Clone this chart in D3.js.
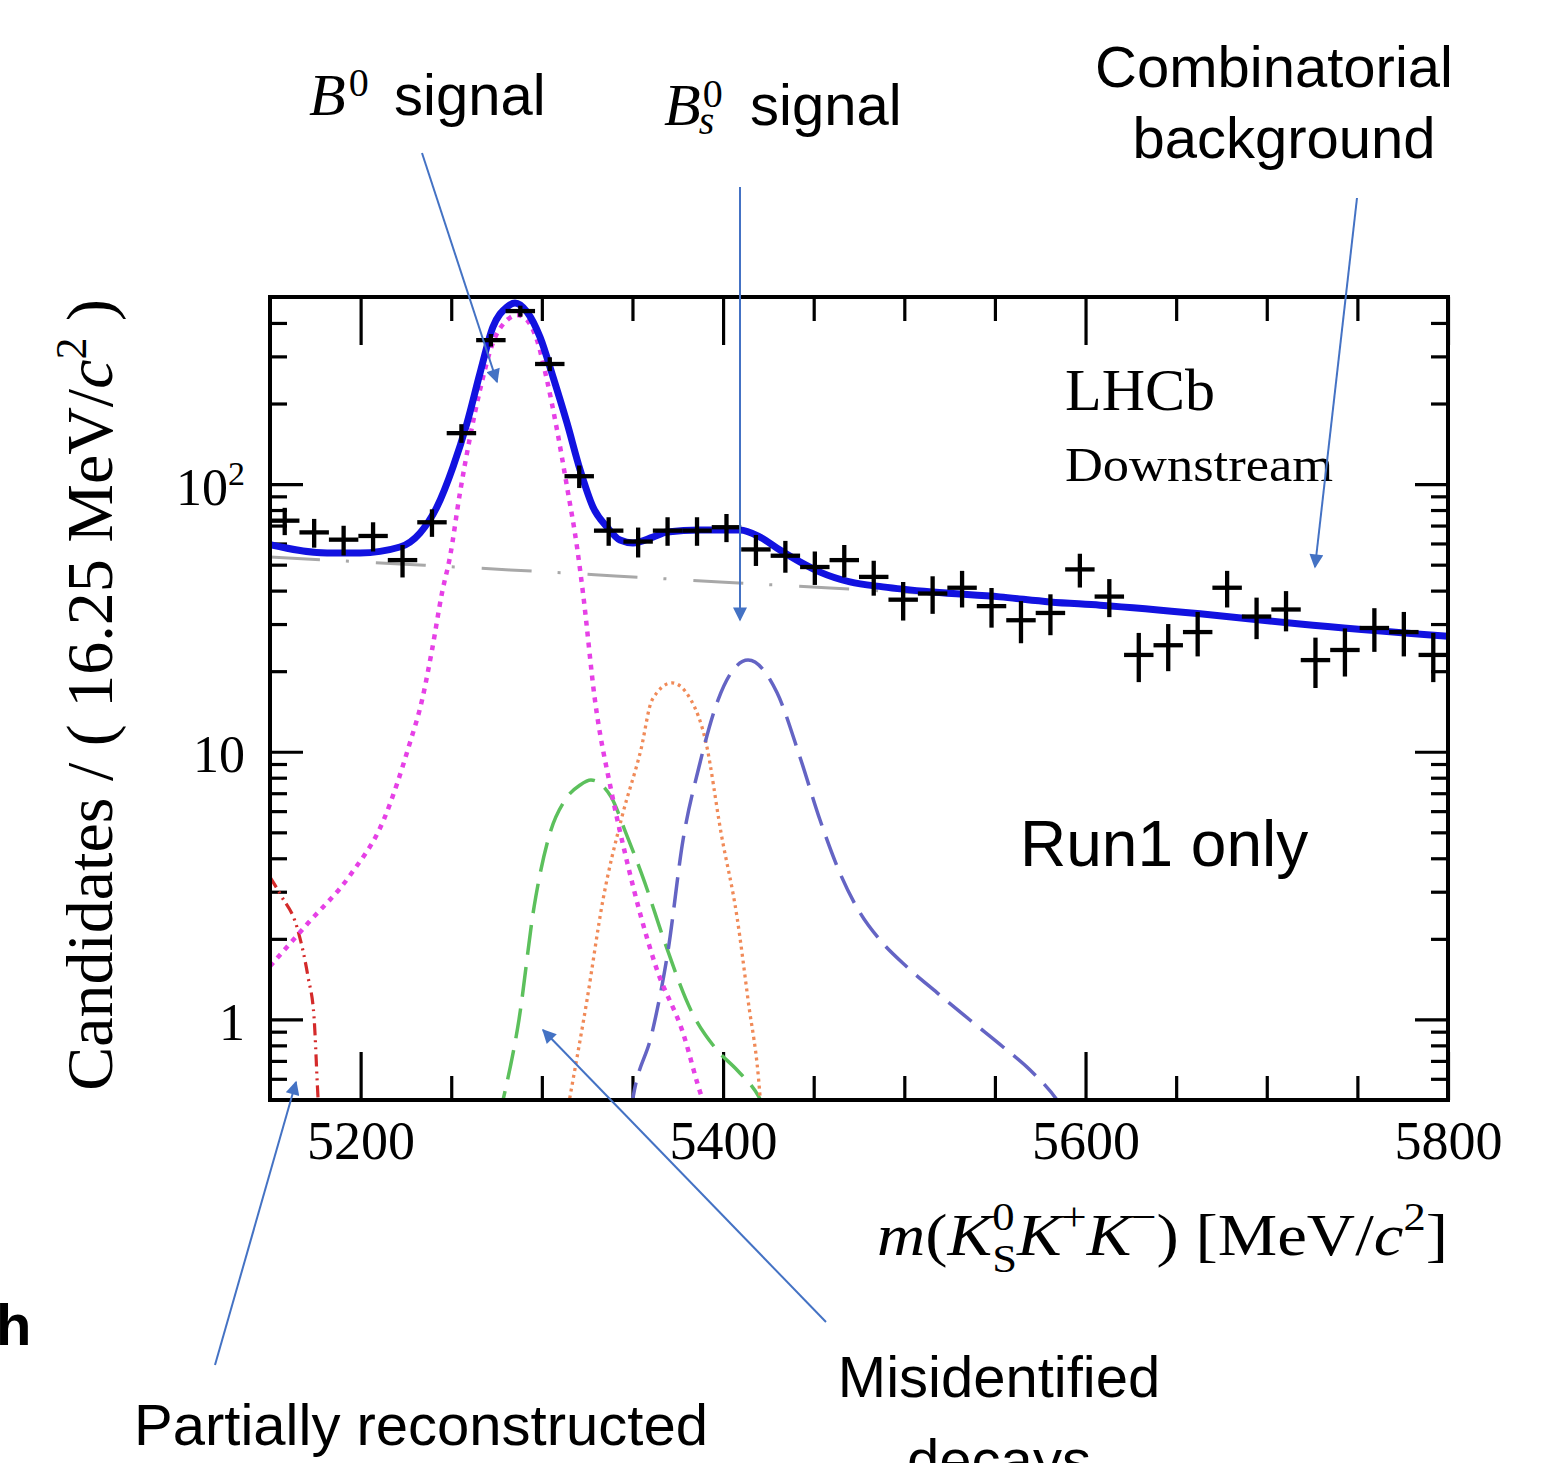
<!DOCTYPE html>
<html><head><meta charset="utf-8">
<script src="https://cdn.jsdelivr.net/npm/d3@7"></script>
<style>body{margin:0;background:#fff;} svg{display:block;}</style>
</head><body>
<svg id="c" width="1560" height="1463"></svg>
<script>
// ---------- data ----------
const massBins = [5158.125,5174.375,5190.625,5206.875,5223.125,5239.375,5255.625,5271.875,5288.125,5304.375,
  5320.625,5336.875,5353.125,5369.375,5385.625,5401.875,5418.125,5434.375,5450.625,5466.875,
  5483.125,5499.375,5515.625,5531.875,5548.125,5564.375,5580.625,5596.875,5613.125,5629.375,
  5645.625,5661.875,5678.125,5694.375,5710.625,5726.875,5743.125,5759.375,5775.625,5791.875];
const counts = [73,66,62,64,52,72,155,345,443,281,
  107,67,61,67,67,69,57,54,49,52,
  45,37,39,41,35,31,33,48,38,23,
  25,28,41,32,34,22,24,29,28,23];
const binWidth = 16.25;

const totalFit = [[5150,59.4],[5181.5,55.3],[5199.7,55.3],[5221.7,58.2],[5232.8,65.7],[5242.1,82.1],[5251.0,116],
  [5258.7,169],[5265.9,260],[5273.0,386],[5280.8,459],[5285.2,475],[5291.8,440],[5299.0,354],[5306.2,251],
  [5313.9,169],[5321.1,113],[5328.2,82.1],[5336.0,69.1],[5343.1,61.8],[5350.3,60.3],[5361.3,63.4],[5369.1,66.2],
  [5387.3,67.4],[5409.3,67.4],[5420.4,63.4],[5431.4,56.7],[5442.4,51.2],[5453.5,46.9],[5470.0,43.1],[5488.2,41.3],
  [5515.8,39.5],[5552.8,37.9],[5580.4,36.3],[5608.0,35.3],[5663.2,32.8],[5718.3,30.0],[5800,27.0]];
const combBkg = [[5150,53.4],[5221.7,50.3],[5282.4,47.8],[5340.4,45.4],[5398.3,43.1],[5459.0,40.9],
  [5552.8,37.5],[5608.0,35.0],[5663.2,32.6],[5718.3,29.8],[5800,26.8]];
const b0Signal = [[5150,1.58],[5171.0,2.29],[5194.1,3.45],[5212.9,5.6],[5227.2,10.8],[5233.9,15.6],[5239.4,24.0],
  [5244.9,39.2],[5249.3,53.4],[5254.8,92.6],[5260.4,150],[5265.9,225],[5273.0,337],[5280.8,410],[5286.3,428],
  [5291.8,410],[5297.3,345],[5302.8,245],[5308.4,159],[5313.9,97.5],[5319.4,58.2],[5322.7,39.2],[5329.3,15.6],
  [5338.2,7.20],[5346.4,4.04],[5363.0,1.57],[5377.9,0.89],[5388.4,0.51],[5391,0.46]];
const partReco = [[5150,3.4],[5156.4,2.88],[5164.9,2.21],[5171.0,1.44],[5174.3,1.02],[5176.5,0.51],[5177,0.45]];
const greenComp = [[5276,0.42],[5278.6,0.5],[5287.4,1.0],[5295.7,2.63],[5304.5,4.97],[5312.8,6.60],[5321.1,7.51],
  [5327.1,7.84],[5338.2,6.78],[5346.4,4.97],[5356.9,3.23],[5367.4,1.98],[5382.3,1.08],[5396.6,0.769],
  [5407.7,0.647],[5419.8,0.513],[5422,0.48]];
const orangeComp = [[5314,0.45],[5315.5,0.513],[5324.9,1.18],[5333.7,2.79],[5344.2,5.71],[5354.7,10.2],[5360.8,15.6],
  [5371.8,18.1],[5382.3,15.6],[5390.6,10.8],[5398.9,4.97],[5407.7,2.41],[5413.8,1.18],[5420.4,0.513],[5421,0.45]];
const purpleComp = [[5349,0.45],[5350.3,0.51],[5360.8,0.89],[5369.6,1.8],[5377.9,4.68],[5386.7,8.77],[5397.2,15.6],
  [5405.5,20.2],[5413.8,22.0],[5429.8,16.6],[5442.4,9.56],[5453.5,5.56],[5464.5,3.52],[5475.6,2.50],[5486.6,1.98],
  [5501.5,1.57],[5518.0,1.26],[5536.2,0.995],[5554.5,0.789],[5569.4,0.647],[5584.3,0.5],[5587,0.47]];

const xMajor = [5200,5400,5600,5800];
const xMinor = [5250,5300,5350,5450,5500,5550,5650,5700,5750];
const yMajor = [1,10,100];
const yMinor = [0.6,0.7,0.8,0.9,2,3,4,5,6,7,8,9,20,30,40,50,60,70,80,90,200,300,400];

// ---------- chart ----------
const svg = d3.select("#c");
const L = 270, R = 1448, T = 297, B = 1100;
const x = d3.scaleLinear().domain([5150,5800]).range([L,R]);
const y = d3.scaleLog().domain([0.5,500]).range([B,T]);
const serif = "'Liberation Serif','Times New Roman',serif";
const sans = "'Liberation Sans',Arial,Helvetica,sans-serif";

svg.append("defs").html(`
 <clipPath id="plotclip"><rect x="${L}" y="${T}" width="${R-L}" height="${B-T}"/></clipPath>
 <marker id="ah" viewBox="0 0 10 10" refX="9" refY="5" markerUnits="userSpaceOnUse" markerWidth="17" markerHeight="14" orient="auto">
   <path d="M0,0 L10,5 L0,10 z" fill="#4472c4"/></marker>`);

// axes ticks
function styleAxis(g){ g.select(".domain").remove(); g.selectAll(".tick line").attr("stroke","#000").attr("stroke-width",3.2); }
svg.append("g").attr("transform",`translate(0,${B})`)
  .call(d3.axisBottom(x).tickValues(xMinor).tickSize(-24).tickFormat("")).call(styleAxis);
const gxb = svg.append("g").attr("transform",`translate(0,${B})`)
  .call(d3.axisBottom(x).tickValues(xMajor).tickSize(-48).tickPadding(21).tickFormat(d3.format("d"))).call(styleAxis);
gxb.selectAll("text").attr("font-family",serif).attr("font-size",54).attr("fill","#000");
svg.append("g").attr("transform",`translate(0,${T})`)
  .call(d3.axisTop(x).tickValues(xMinor).tickSize(-24).tickFormat("")).call(styleAxis);
svg.append("g").attr("transform",`translate(0,${T})`)
  .call(d3.axisTop(x).tickValues(xMajor).tickSize(-48).tickFormat("")).call(styleAxis);

svg.append("g").attr("transform",`translate(${L},0)`)
  .call(d3.axisLeft(y).tickValues(yMinor).tickSize(-17).tickFormat("")).call(styleAxis);
const gyl = svg.append("g").attr("transform",`translate(${L},0)`)
  .call(d3.axisLeft(y).tickValues(yMajor).tickSize(-33).tickPadding(25).tickFormat(d => d===100 ? "" : String(d))).call(styleAxis);
gyl.selectAll("text").attr("font-family",serif).attr("font-size",52).attr("fill","#000").attr("dy",20)
  .each(function(d){
    if(d===100){
      const t = d3.select(this);
      t.append("tspan").text("10");
      t.append("tspan").attr("font-size",34).attr("dy",-20).text("2");
    }
  });
svg.append("g").attr("transform",`translate(${R},0)`)
  .call(d3.axisRight(y).tickValues(yMinor).tickSize(-17).tickFormat("")).call(styleAxis);
svg.append("g").attr("transform",`translate(${R},0)`)
  .call(d3.axisRight(y).tickValues(yMajor).tickSize(-33).tickFormat("")).call(styleAxis);

// curves
const line = d3.line().x(d=>x(d[0])).y(d=>y(d[1])).curve(d3.curveMonotoneX);
const gc = svg.append("g").attr("clip-path","url(#plotclip)").attr("fill","none");
gc.append("path").datum(combBkg).attr("d",line).attr("stroke","#a8a8a8").attr("stroke-width",3).attr("stroke-dasharray","50,26,3,27");
gc.append("path").datum(partReco).attr("d",line).attr("stroke","#d42a2a").attr("stroke-width",3.2).attr("stroke-dasharray","12,5,2,5,2,5");
gc.append("path").datum(greenComp).attr("d",line).attr("stroke","#5cc05c").attr("stroke-width",3.5).attr("stroke-dasharray","30,12");
gc.append("path").datum(orangeComp).attr("d",line).attr("stroke","#f08a58").attr("stroke-width",3.3).attr("stroke-dasharray","3,4");
gc.append("path").datum(purpleComp).attr("d",line).attr("stroke","#6464c4").attr("stroke-width",3.5).attr("stroke-dasharray","30,12");
gc.append("path").datum(b0Signal).attr("d",line).attr("stroke","#e640e6").attr("stroke-width",4.5).attr("stroke-dasharray","5,6");
gc.append("path").datum(totalFit).attr("d",line).attr("stroke","#1212e0").attr("stroke-width",7).attr("stroke-linejoin","round");

// data points
const gp = svg.append("g").attr("stroke","#000").attr("stroke-width",4.3);
massBins.forEach((m,i)=>{
  const n = counts[i], e = Math.sqrt(n);
  gp.append("line").attr("x1",x(m-binWidth/2)).attr("x2",x(m+binWidth/2)).attr("y1",y(n)).attr("y2",y(n));
  gp.append("line").attr("x1",x(m)).attr("x2",x(m)).attr("y1",y(n+e)).attr("y2",y(Math.max(n-e,0.5)));
});

// frame
svg.append("rect").attr("x",L).attr("y",T).attr("width",R-L).attr("height",B-T)
  .attr("fill","none").attr("stroke","#000").attr("stroke-width",4);

// axis titles
const yt = svg.append("text").attr("transform",`translate(112,${T+2}) rotate(-90)`)
  .attr("text-anchor","end").attr("font-family",serif).attr("font-size",66).attr("fill","#000");
yt.append("tspan").text("Candidates / ( 16.25 MeV/");
yt.append("tspan").attr("font-style","italic").text("c");
yt.append("tspan").attr("font-size",44).attr("dy",-26).text("2");
yt.append("tspan").attr("dy",26).text(" )");

const xt = svg.append("text").attr("x",R).attr("y",1255).attr("text-anchor","end")
  .attr("font-family",serif).attr("font-size",60).attr("fill","#000")
  .attr("textLength",571).attr("lengthAdjust","spacingAndGlyphs");
xt.append("tspan").attr("font-style","italic").text("m");
xt.append("tspan").text("(");
xt.append("tspan").attr("font-style","italic").text("K");
xt.append("tspan").attr("font-size",40).attr("dy",-25).text("0");
xt.append("tspan").attr("font-size",40).attr("dx",-20).attr("dy",42).text("S");
xt.append("tspan").attr("font-style","italic").attr("dy",-17).text("K");
xt.append("tspan").attr("font-size",40).attr("dy",-25).text("+");
xt.append("tspan").attr("font-style","italic").attr("dy",25).text("K");
xt.append("tspan").attr("font-size",40).attr("dy",-25).text("−");
xt.append("tspan").attr("dy",25).text(") [MeV/");
xt.append("tspan").attr("font-style","italic").text("c");
xt.append("tspan").attr("font-size",40).attr("dy",-25).text("2");
xt.append("tspan").attr("dy",25).text("]");

// in-plot labels
svg.append("text").attr("x",1065).attr("y",410).attr("font-family",serif).attr("font-size",60).attr("fill","#000").text("LHCb");
svg.append("text").attr("x",1065).attr("y",481).attr("font-family",serif).attr("font-size",48).attr("textLength",268)
  .attr("lengthAdjust","spacingAndGlyphs").attr("fill","#000").text("Downstream");
svg.append("text").attr("x",1020).attr("y",866).attr("font-family",sans).attr("font-size",64).attr("fill","#000").text("Run1 only");

// annotations
function ann(txt,xx,yy,anchor,size,weight){
  return svg.append("text").attr("x",xx).attr("y",yy).attr("text-anchor",anchor||"start")
    .attr("font-family",sans).attr("font-size",size||58).attr("font-weight",weight||"normal").attr("fill","#000").text(txt);
}
const b0t = svg.append("text").attr("x",309).attr("y",115).attr("font-family",serif).attr("font-size",60).attr("fill","#000");
b0t.append("tspan").attr("font-style","italic").text("B");
b0t.append("tspan").attr("font-size",40).attr("dx",3).attr("dy",-19).text("0");
ann("signal",394,115);
const bst = svg.append("text").attr("x",664).attr("y",125).attr("font-family",serif).attr("font-size",60).attr("fill","#000");
bst.append("tspan").attr("font-style","italic").text("B");
bst.append("tspan").attr("font-size",40).attr("dx",2).attr("dy",-18).text("0");
bst.append("tspan").attr("font-size",40).attr("font-style","italic").attr("dx",-24).attr("dy",27).text("s");
ann("signal",750,125);
ann("Combinatorial",1274,87,"middle");
ann("background",1284,158,"middle");
ann("h",-4,1345,"start",58,"bold");
ann("Partially reconstructed",421,1445,"middle");
ann("Misidentified",999,1397,"middle");
ann("decays",999,1480,"middle");

// arrows
const arrows = [[422,153,497,382],[740,187,740,620],[1357,198,1315,567],[215,1365,296,1082],[826,1322,543,1030]];
svg.append("g").selectAll("line").data(arrows).join("line")
  .attr("x1",d=>d[0]).attr("y1",d=>d[1]).attr("x2",d=>d[2]).attr("y2",d=>d[3])
  .attr("stroke","#4472c4").attr("stroke-width",2).attr("marker-end","url(#ah)");
</script>
</body></html>
